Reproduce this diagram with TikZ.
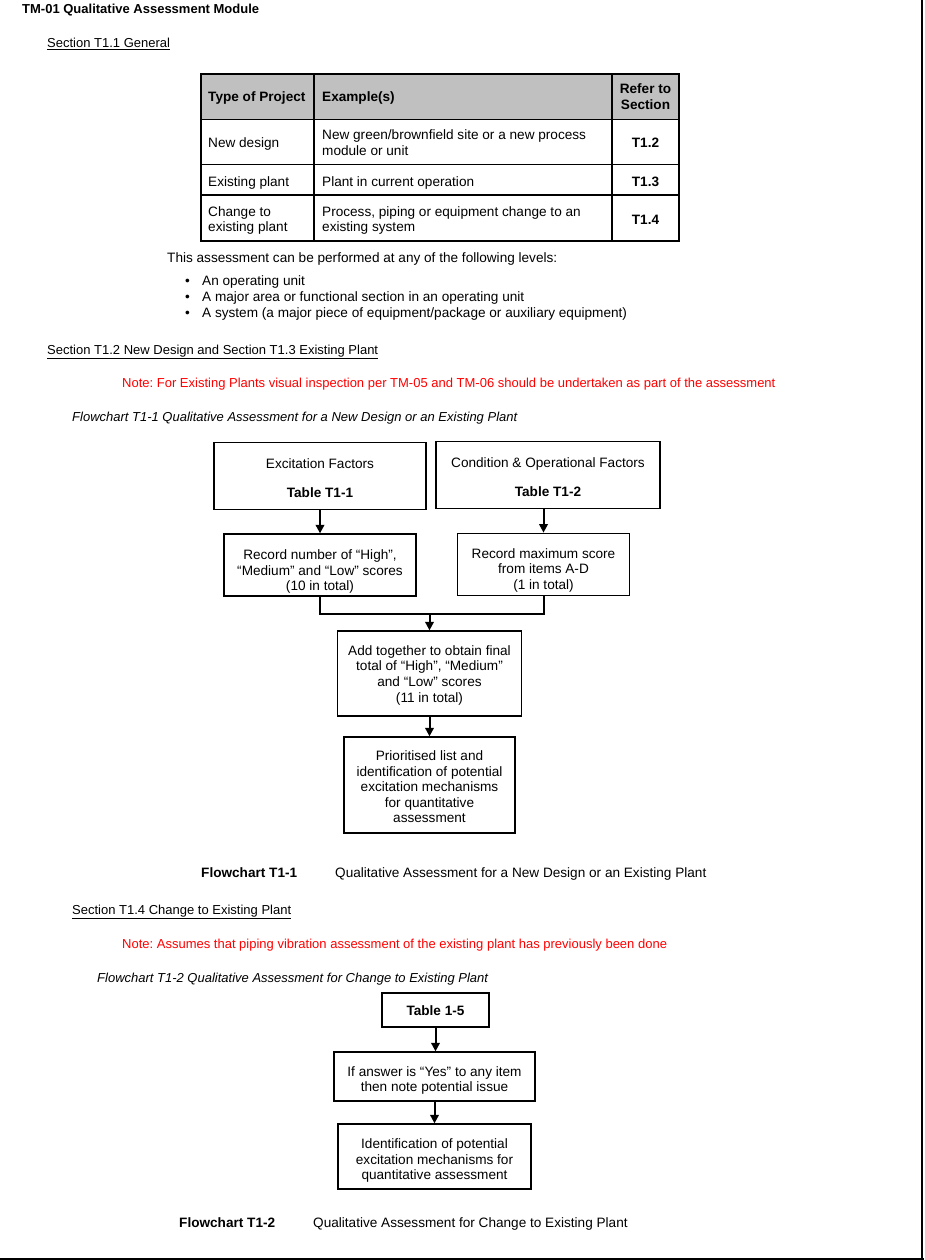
\documentclass[tikz,border=0pt]{standalone}
\usepackage{fontspec}
\setmainfont{Liberation Sans}
\usetikzlibrary{arrows.meta}
\definecolor{hdr}{HTML}{C0C0C0}
\definecolor{notered}{HTML}{FF0000}
\newcommand\fsA{\fontsize{13.6}{15.6}\selectfont}
\newcommand\fsB{\fontsize{13}{15}\selectfont}
% lowered box content (keeps the box dimensions, moves the text)
\newcommand\bxt[2]{\raisebox{-#1}[\height][\depth]{\begin{tabular}{@{}c@{}}#2\end{tabular}}}
\frenchspacing
\begin{document}
\begin{tikzpicture}[x=1pt,y=-1pt,
  box/.style={draw, line width=1.3pt, align=center, inner sep=0pt, font=\fsA},
  arr/.style={line width=2pt, -{Triangle[length=8.5pt,width=8.5pt]}},
  ln/.style={line width=2pt},
  tline/.style={line width=1.4pt},
  txt/.style={anchor=base west, inner sep=0pt, font=\fsB},
  ttxt/.style={anchor=base west, inner sep=0pt, font=\fsA},
  ctxt/.style={anchor=base, inner sep=0pt, font=\fsA},
  note/.style={txt, text=notered}]
\useasboundingbox (0,0) rectangle (924,1260);
% page frame lines
\draw[line width=2pt] (922,0) -- (922,1260);
\draw[line width=2pt] (0,1258.5) -- (924,1258.5);

% title and section headings
\node[anchor=base west, inner sep=0pt, font=\fontsize{13}{15}\selectfont\bfseries] (title) at (22,14) {TM-01 Qualitative Assessment Module};
\node[txt] (s11) at (47,47.5) {\underline{Section T1.1 General}};

% table
\fill[hdr] (201,74) rectangle (679,119.5);
\draw[tline] (201,74) rectangle (679,241);
\draw[tline] (201,119.5) -- (679,119.5);
\draw[tline] (201,164.5) -- (679,164.5);
\draw[tline] (201,195) -- (679,195);
\draw[tline] (314,74) -- (314,241);
\draw[tline] (612,74) -- (612,241);
\node[ttxt, font=\fsA\bfseries] (h1) at (208,102) {Type of Project};
\node[ttxt, font=\fsA\bfseries] (h2) at (322,102) {Example(s)};
\node[ctxt, font=\fsA\bfseries] (h3a) at (645.5,94) {Refer to};
\node[ctxt, font=\fsA\bfseries] (h3b) at (645.5,109.5) {Section};
\node[ttxt] (r1a) at (208,148) {New design};
\node[ttxt] (r1b) at (322,140) {New green/brownfield site or a new process};
\node[ttxt] (r1c) at (322,155.5) {module or unit};
\node[ctxt, font=\fsA\bfseries] (r1d) at (645.5,148) {T1.2};
\node[ttxt] (r2a) at (208,186) {Existing plant};
\node[ttxt] (r2b) at (322,186) {Plant in current operation};
\node[ctxt, font=\fsA\bfseries] (r2d) at (645.5,186) {T1.3};
\node[ttxt] (r3a) at (208,216) {Change to};
\node[ttxt] (r3b) at (208,231.5) {existing plant};
\node[ttxt] (r3c) at (322,216) {Process, piping or equipment change to an};
\node[ttxt] (r3e) at (322,231.5) {existing system};
\node[ctxt, font=\fsA\bfseries] (r3d) at (645.5,224) {T1.4};

\node[ttxt] (lev) at (167,262) {This assessment can be performed at any of the following levels:};
\node[ttxt] (b1) at (185,285) {\textbullet};
\node[ttxt] (b2) at (185,301) {\textbullet};
\node[ttxt] (b3) at (185,317) {\textbullet};
\node[ttxt] (l1) at (202,285) {An operating unit};
\node[ttxt] (l2) at (202,301) {A major area or functional section in an operating unit};
\node[ttxt] (l3) at (202,317) {A system (a major piece of equipment/package or auxiliary equipment)};

% Section T1.2
\node[txt] (s12) at (47,354) {\underline{Section T1.2 New Design and Section T1.3 Existing Plant}};
\node[note] (n1) at (122,387.5) {Note: For Existing Plants visual inspection per TM-05 and TM-06 should be undertaken as part of the assessment};
\node[txt, font=\fsB\itshape] (f1) at (72,421.5) {Flowchart T1-1 Qualitative Assessment for a New Design or an Existing Plant};

% Flowchart 1
\node[box, minimum width=212pt, minimum height=67pt] (A) at (320,475.7) {\bxt{4.5pt}{Excitation Factors\\[13.5pt]\textbf{Table T1-1}}};
\node[box, minimum width=224pt, minimum height=67pt] (B) at (548,474.7) {\bxt{4.5pt}{Condition \& Operational Factors\\[13.5pt]\textbf{Table T1-2}}};
\node[box, minimum width=192pt, minimum height=62pt] (C) at (320,565) {\bxt{7pt}{Record number of “High”,\\“Medium” and “Low” scores\\(10 in total)}};
\node[box, minimum width=172pt, minimum height=62pt] (D) at (543.5,564.3) {\bxt{6.5pt}{Record maximum score\\from items A-D\\(1 in total)}};
\node[box, minimum width=184pt, minimum height=85pt] (E) at (429.5,673.5) {\bxt{2pt}{Add together to obtain final\\total of “High”, “Medium”\\and “Low” scores\\(11 in total)}};
\node[box, minimum width=171pt, minimum height=96pt] (F) at (429.5,785) {\bxt{3.5pt}{Prioritised list and\\identification of potential\\excitation mechanisms\\for quantitative\\assessment}};
\coordinate (m) at (429.5,613.5);
\draw[arr] (A.south -| C.north) -- (C.north);
\draw[arr] (B.south -| D.north) -- (D.north);
\draw[ln] (C.south) -- (C.south |- m) -- (D.south |- m) -- (D.south);
\draw[arr] (m) -- (E.north);
\draw[arr] (E.south) -- (F.north);

\node[ttxt, font=\fsA\bfseries] (c1a) at (201,877) {Flowchart T1-1};
\node[ttxt] (c1b) at (335,877) {Qualitative Assessment for a New Design or an Existing Plant};

% Section T1.4
\node[txt] (s14) at (72,914.5) {\underline{Section T1.4 Change to Existing Plant}};
\node[note] (n2) at (122,948.5) {Note: Assumes that piping vibration assessment of the existing plant has previously been done};
\node[txt, font=\fsB\itshape] (f2) at (97,982.5) {Flowchart T1-2 Qualitative Assessment for Change to Existing Plant};

% Flowchart 2
\node[box, minimum width=107pt, minimum height=34pt] (G) at (435.5,1010) {\bxt{2.5pt}{\textbf{Table 1-5}}};
\node[box, minimum width=201pt, minimum height=49pt] (H) at (434.5,1076.5) {\bxt{4.5pt}{If answer is “Yes” to any item\\then note potential issue}};
\node[box, minimum width=193pt, minimum height=65pt] (I) at (434.5,1156.5) {\bxt{4.5pt}{Identification of potential\\excitation mechanisms for\\quantitative assessment}};
\draw[arr] (G.south) -- (G.south |- H.north);
\draw[arr] (H.south) -- (I.north);

\node[ttxt, font=\fsA\bfseries] (c2a) at (179,1227) {Flowchart T1-2};
\node[ttxt] (c2b) at (313,1227) {Qualitative Assessment for Change to Existing Plant};
\end{tikzpicture}
\end{document}
